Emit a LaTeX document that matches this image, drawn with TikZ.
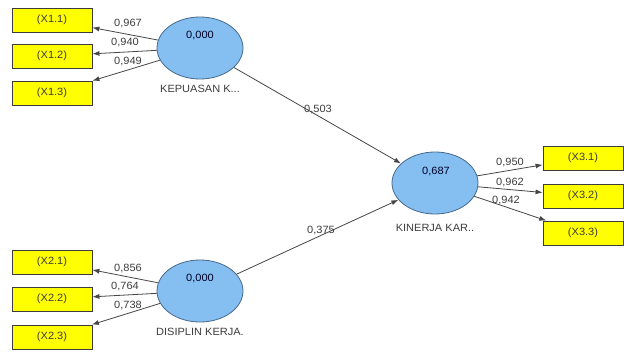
\documentclass[tikz,border=0pt]{standalone}
\usepackage{fontspec}
\setmainfont{Liberation Sans}[FakeStretch=1.05]
\usetikzlibrary{shapes.geometric,arrows.meta}
\definecolor{ellfill}{RGB}{133,190,240}
\definecolor{elldraw}{RGB}{70,105,140}
\definecolor{boxfill}{RGB}{255,255,0}
\definecolor{boxdraw}{RGB}{60,60,60}
\definecolor{txt}{RGB}{60,60,60}
\definecolor{linec}{RGB}{70,70,70}
\begin{document}
\begin{tikzpicture}[x=1pt,y=-1pt,
  every node/.style={font=\fontsize{10.5}{12}\selectfont,text=txt},
  latent/.style={ellipse,draw=elldraw,line width=0.8pt,fill=ellfill,minimum width=86pt,minimum height=62pt,inner sep=0pt},
  indic/.style={rectangle,draw=boxdraw,line width=0.8pt,fill=boxfill,minimum width=80pt,minimum height=24pt,inner sep=0pt},
  conn/.style={draw=linec,line width=0.8pt,-{Latex[length=7pt,width=5pt]}},
  coef/.style={inner sep=0pt},
  val/.style={inner sep=0pt,text=black!75!blue!60!black}]
\useasboundingbox[fill=white] (0,0) rectangle (624,351);
% latent variables
\node[latent] (kep) at (200,48) {};
\node[latent] (dis) at (200,291) {};
\node[latent] (kin) at (435,183) {};
\node[val] (kepv) at (200,36) {0,000};
\node[val] (disv) at (200,279) {0,000};
\node[val] (kinv) at (436,172) {0,687};
\node[inner sep=0pt] (kepl) at (200,89) {KEPUASAN K...};
\node[inner sep=0pt] (disl) at (200,332) {DISIPLIN KERJA.};
\node[inner sep=0pt] (kinl) at (435,228) {KINERJA KAR..};
% indicators
\node[indic] (x11) at (52,20) {(X1.1)};
\node[indic] (x12) at (52,56) {(X1.2)};
\node[indic] (x13) at (52,93) {(X1.3)};
\node[indic] (x21) at (52,262) {(X2.1)};
\node[indic] (x22) at (52,299) {(X2.2)};
\node[indic] (x23) at (52,337) {(X2.3)};
\node[indic] (x31) at (583,158) {(X3.1)};
\node[indic] (x32) at (583,196) {(X3.2)};
\node[indic] (x33) at (583,233) {(X3.3)};
% connectors
\draw[conn] (kep) -- (x11);
\draw[conn] (kep) -- (x12);
\draw[conn] (kep) -- (x13);
\draw[conn] (dis) -- (x21);
\draw[conn] (dis) -- (x22);
\draw[conn] (dis) -- (x23);
\draw[conn] (kin) -- (x31);
\draw[conn] (kin) -- (x32);
\draw[conn] (kin) -- (x33);
\draw[conn] (kep) -- (kin);
\draw[conn] (dis) -- (kin);
% coefficients
\node[coef] (c11) at (128,24) {0,967};
\node[coef] (c12) at (125,43) {0,940};
\node[coef] (c13) at (128,62) {0,949};
\node[coef] (c21) at (128,269) {0,856};
\node[coef] (c22) at (125,287) {0,764};
\node[coef] (c23) at (128,306) {0,738};
\node[coef] (c31) at (510,163) {0,950};
\node[coef] (c32) at (510,183) {0,962};
\node[coef] (c33) at (506,201) {0,942};
\node[coef] (ckep) at (318,110) {0,503};
\node[coef] (cdis) at (321,231) {0,375};
\end{tikzpicture}
\end{document}
